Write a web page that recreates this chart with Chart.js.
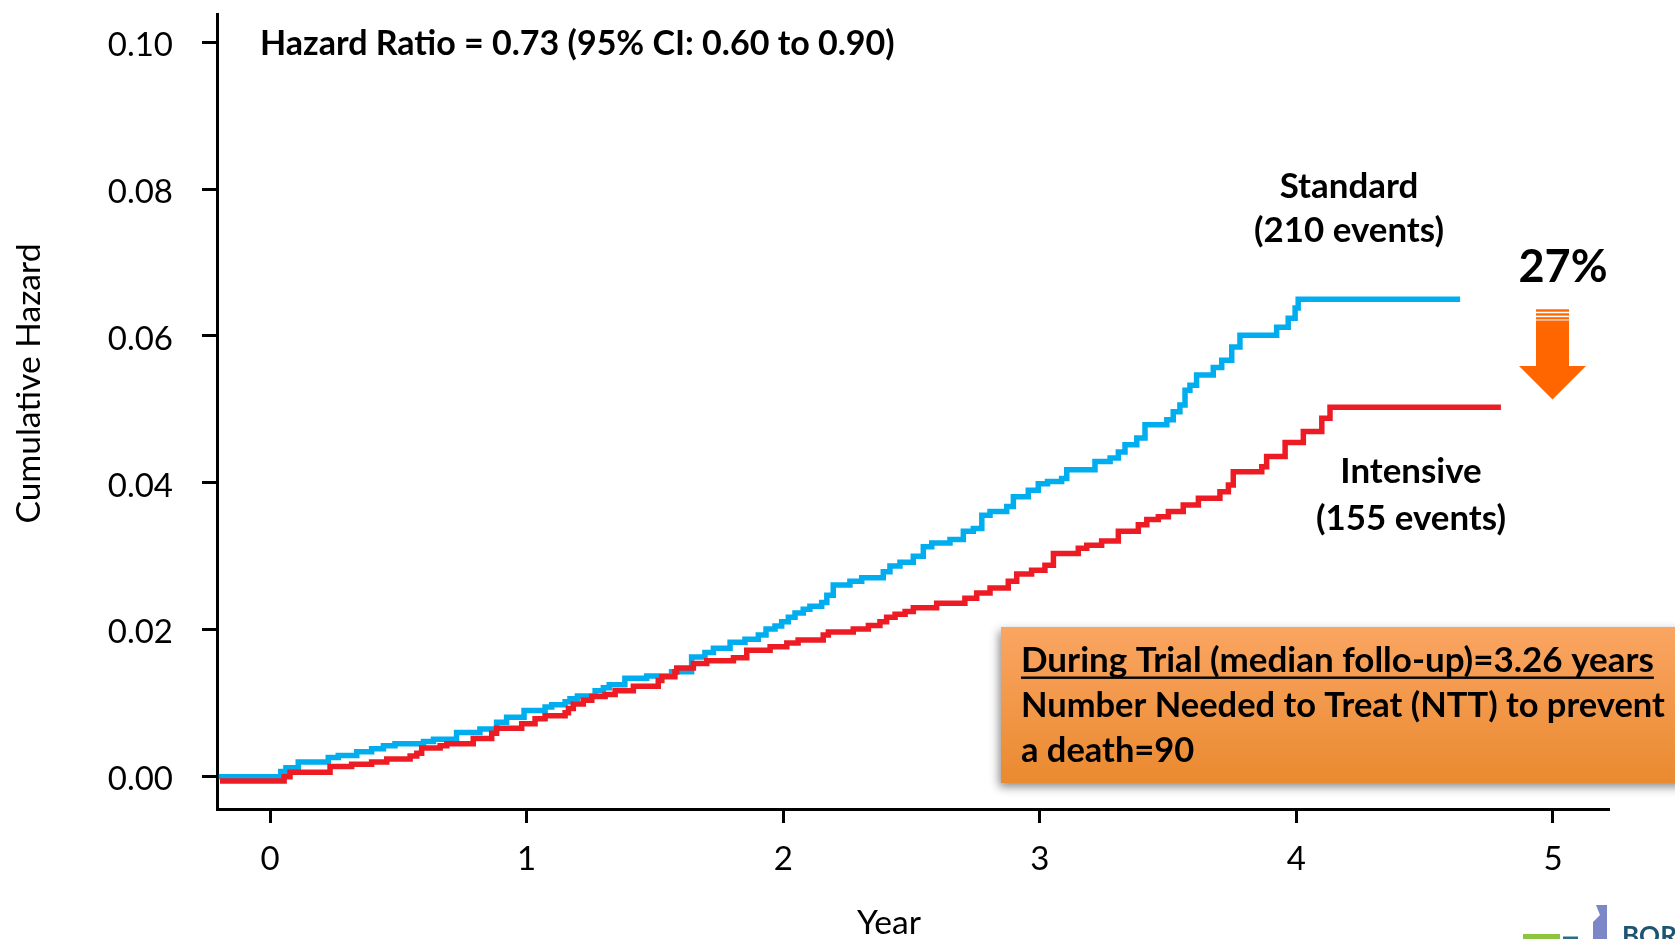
<!DOCTYPE html>
<html>
<head>
<meta charset="utf-8">
<title>Cumulative Hazard</title>
<script src="https://cdn.jsdelivr.net/npm/chart.js@4.4.0/dist/chart.umd.min.js"></script>
<style>
  html, body { margin: 0; padding: 0; background: #fff; }
  #wrap { width: 1675px; height: 939px; position: relative; overflow: hidden; }
</style>
</head>
<body>
<div id="wrap"><canvas id="chart" width="1675" height="939"></canvas></div>
<script>
// Standard arm (blue) - step points
const standardTime = [-0.2, 0.042, 0.062, 0.11, 0.227, 0.266, 0.338, 0.396, 0.442, 0.487, 0.598, 0.637, 0.727, 0.818, 0.883, 0.922, 0.99,
  1.072, 1.098, 1.15, 1.169, 1.198, 1.267, 1.299, 1.322, 1.383, 1.468, 1.565, 1.643, 1.695, 1.728, 1.793, 1.851, 1.903, 1.933, 1.968, 1.994,
  2.02, 2.046, 2.078, 2.104, 2.15, 2.17, 2.195, 2.26, 2.306, 2.39, 2.416, 2.455, 2.507, 2.546, 2.579, 2.65, 2.702, 2.741, 2.774, 2.806,
  2.871, 2.897, 2.955, 2.994, 3.03, 3.085, 3.105, 3.215, 3.274, 3.306, 3.332, 3.378, 3.41, 3.495, 3.52, 3.546, 3.566, 3.585, 3.611,
  3.676, 3.709, 3.748, 3.78, 3.923, 3.968, 3.995, 4.007, 4.638];
const standardHazard = [0, 0.0007, 0.0012, 0.002, 0.0026, 0.0029, 0.0034, 0.0038, 0.0042, 0.0045, 0.0048, 0.0051, 0.006, 0.0065, 0.0074, 0.0081, 0.009,
  0.0095, 0.0098, 0.0102, 0.0106, 0.011, 0.0117, 0.0121, 0.0125, 0.0134, 0.0137, 0.0143, 0.0163, 0.0169, 0.0175, 0.0183, 0.0187, 0.0193, 0.0201, 0.0205, 0.0211,
  0.0217, 0.0223, 0.0228, 0.0232, 0.0237, 0.0247, 0.0261, 0.0266, 0.0271, 0.0279, 0.0287, 0.0292, 0.03, 0.0313, 0.0318, 0.0323, 0.0334, 0.0338, 0.0356, 0.0361,
  0.0368, 0.0381, 0.039, 0.0399, 0.0402, 0.0406, 0.0418, 0.0429, 0.0434, 0.0442, 0.0452, 0.0461, 0.0479, 0.0486, 0.0497, 0.0506, 0.0526, 0.0533, 0.0547,
  0.0557, 0.0567, 0.0585, 0.0601, 0.0612, 0.0624, 0.0638, 0.065, 0.065];

// Intensive arm (red)
const intensiveTime = [-0.195, 0.055, 0.078, 0.234, 0.318, 0.396, 0.455, 0.546, 0.572, 0.591, 0.663, 0.689, 0.792, 0.864, 0.883, 0.981,
  1.033, 1.072, 1.15, 1.163, 1.182, 1.221, 1.254, 1.306, 1.345, 1.416, 1.513, 1.527, 1.578, 1.585, 1.65, 1.702, 1.806, 1.858, 1.949,
  2.014, 2.058, 2.156, 2.176, 2.273, 2.332, 2.377, 2.403, 2.436, 2.475, 2.507, 2.598, 2.708, 2.754, 2.806, 2.877, 2.91, 2.968,
  3.02, 3.053, 3.15, 3.183, 3.241, 3.306, 3.384, 3.417, 3.462, 3.501, 3.559, 3.618, 3.702, 3.735, 3.754, 3.865, 3.884, 3.956,
  4.027, 4.099, 4.131, 4.797];
const intensiveHazard = [-0.0006, 0, 0.0006, 0.0014, 0.0017, 0.002, 0.0024, 0.0028, 0.0032, 0.0039, 0.0042, 0.0045, 0.0052, 0.0059, 0.0066, 0.0072,
  0.0079, 0.0083, 0.0087, 0.0093, 0.0099, 0.0104, 0.0109, 0.0112, 0.0117, 0.0123, 0.0131, 0.0136, 0.0143, 0.0148, 0.0154, 0.0158, 0.0162, 0.0172, 0.0177,
  0.0182, 0.0186, 0.0193, 0.0197, 0.0201, 0.0206, 0.0211, 0.0217, 0.0221, 0.0225, 0.023, 0.0236, 0.0243, 0.025, 0.0257, 0.0266, 0.0276, 0.0281,
  0.0288, 0.0304, 0.0311, 0.0315, 0.0321, 0.0334, 0.0343, 0.035, 0.0354, 0.0361, 0.037, 0.0379, 0.0388, 0.0397, 0.0415, 0.0422, 0.0436, 0.0455,
  0.047, 0.0488, 0.0503, 0.0503];

const yearTicks = [0, 1, 2, 3, 4, 5];
const hazardTicks = [0, 0.02, 0.04, 0.06, 0.08, 0.10];

const FONT = 'Lato, "Open Sans", sans-serif';

function toPoints(xs, ys) {
  return xs.map((x, i) => ({ x: x, y: ys[i] }));
}

// font size that makes text a given width
function fitSize(ctx, text, weight, width) {
  ctx.font = weight + ' 100px ' + FONT;
  return 100 * width / ctx.measureText(text).width;
}

function centerText(ctx, text, cx, baseline, size, weight) {
  ctx.font = weight + ' ' + size + 'px ' + FONT;
  ctx.textAlign = 'center';
  ctx.fillText(text, cx, baseline);
}

const annotations = {
  id: 'annotations',
  afterDraw(chart) {
    const ctx = chart.ctx;
    ctx.save();
    ctx.fillStyle = '#000';
    ctx.textBaseline = 'alphabetic';

    // hazard ratio
    const hr = 'Hazard Ratio = 0.73 (95% CI: 0.60 to 0.90)';
    ctx.font = 'bold ' + fitSize(ctx, hr, 'bold', 635) + 'px ' + FONT;
    ctx.textAlign = 'left';
    ctx.fillText(hr, 260, 55);

    // group labels
    const gs = fitSize(ctx, '(210 events)', 'bold', 190);
    centerText(ctx, 'Standard', 1349, 198, gs, 'bold');
    centerText(ctx, '(210 events)', 1349, 242, gs, 'bold');
    centerText(ctx, 'Intensive', 1411, 483, gs, 'bold');
    centerText(ctx, '(155 events)', 1411, 530, gs, 'bold');

    centerText(ctx, '27%', 1563, 282, 45, 'bold');

    // arrow
    ctx.fillStyle = '#ff6600';
    ctx.fillRect(1536, 309.3, 33, 2.4);
    ctx.fillRect(1536, 313.3, 33, 2.3);
    ctx.fillRect(1536, 317.2, 33, 2.2);
    ctx.beginPath();
    ctx.moveTo(1536, 320.5);
    ctx.lineTo(1569, 320.5);
    ctx.lineTo(1569, 366);
    ctx.lineTo(1586, 366);
    ctx.lineTo(1552.5, 399.5);
    ctx.lineTo(1519, 366);
    ctx.lineTo(1536, 366);
    ctx.closePath();
    ctx.fill();

    // orange box
    ctx.save();
    const grad = ctx.createLinearGradient(0, 627, 0, 783);
    grad.addColorStop(0, '#faa562');
    grad.addColorStop(1, '#ea8a30');
    ctx.shadowColor = 'rgba(0,0,0,0.45)';
    ctx.shadowBlur = 9;
    ctx.shadowOffsetX = -2;
    ctx.shadowOffsetY = 4;
    ctx.fillStyle = grad;
    ctx.fillRect(1001, 627, 700, 156);
    ctx.restore();

    const l1 = 'During Trial (median follo-up)=3.26 years';
    const l2 = 'Number Needed to Treat (NTT) to prevent';
    ctx.textAlign = 'left';
    ctx.fillStyle = '#000';
    ctx.font = 'bold ' + fitSize(ctx, l1, 'bold', 633) + 'px ' + FONT;
    ctx.fillText(l1, 1021, 672);
    ctx.fillRect(1021, 676.5, ctx.measureText(l1).width, 2.4);
    ctx.font = 'bold ' + fitSize(ctx, l2, 'bold', 644) + 'px ' + FONT;
    ctx.fillText(l2, 1021, 717);
    ctx.fillText('a death=90', 1021, 762);

    // axis titles
    const ys = fitSize(ctx, 'Cumulative Hazard', 'normal', 280);
    ctx.save();
    ctx.translate(40, 383.5);
    ctx.rotate(-Math.PI / 2);
    centerText(ctx, 'Cumulative Hazard', 0, 0, ys, 'normal');
    ctx.restore();
    centerText(ctx, 'Year', 889, 934, fitSize(ctx, 'Year', 'normal', 64), 'normal');

    // logo corner
    ctx.fillStyle = '#8cc63f';
    ctx.fillRect(1523, 934, 37, 6);
    ctx.fillStyle = '#2a6e8a';
    ctx.fillRect(1563, 936.5, 15, 3);
    ctx.fillStyle = '#7c87c8';
    ctx.beginPath();
    ctx.moveTo(1596, 905);
    ctx.lineTo(1607, 905);
    ctx.lineTo(1607, 939);
    ctx.lineTo(1593, 939);
    ctx.lineTo(1593, 922);
    ctx.lineTo(1600, 915);
    ctx.closePath();
    ctx.fill();
    ctx.fillStyle = '#1d5570';
    ctx.font = 'bold 26px ' + FONT;
    ctx.textAlign = 'left';
    ctx.fillText('BOR', 1622, 945);

    ctx.restore();
  }
};

new Chart(document.getElementById('chart'), {
  type: 'line',
  data: {
    datasets: [
      {
        label: 'Intensive',
        data: toPoints(intensiveTime, intensiveHazard),
        borderColor: '#ed1c24',
        borderWidth: 5.5,
        stepped: true,
        pointRadius: 0,
        fill: false
      },
      {
        label: 'Standard',
        data: toPoints(standardTime, standardHazard),
        borderColor: '#00aeef',
        borderWidth: 5.5,
        stepped: true,
        pointRadius: 0,
        fill: false
      }
    ]
  },
  options: {
    responsive: false,
    animation: false,
    devicePixelRatio: 1,
    layout: { padding: { left: 0, top: 14, right: 66.5, bottom: 0 } },
    plugins: {
      legend: { display: false },
      tooltip: { enabled: false }
    },
    scales: {
      x: {
        type: 'linear',
        min: -0.2066,
        max: 5.2163,
        afterBuildTicks: s => { s.ticks = yearTicks.map(v => ({ value: v })); },
        afterFit: s => { s.height = 130; s.paddingLeft = 0; s.paddingRight = 0; },
        border: { display: true, color: '#000', width: 3 },
        grid: { drawOnChartArea: false, drawTicks: true, tickLength: 14, color: '#000', lineWidth: 3 },
        ticks: {
          color: '#000',
          font: { family: FONT, size: 33 },
          padding: 17,
          maxRotation: 0,
          autoSkip: false,
          callback: v => String(v)
        }
      },
      y: {
        type: 'linear',
        min: -0.0044,
        max: 0.10384,
        afterBuildTicks: s => { s.ticks = hazardTicks.map(v => ({ value: v })); },
        afterFit: s => { s.width = 217; s.paddingTop = 0; s.paddingBottom = 0; },
        border: { display: true, color: '#000', width: 3 },
        grid: { drawOnChartArea: false, drawTicks: true, tickLength: 15, color: '#000', lineWidth: 3 },
        ticks: {
          color: '#000',
          font: { family: FONT, size: 33 },
          padding: 29,
          labelOffset: 3,
          autoSkip: false,
          callback: v => v.toFixed(2)
        }
      }
    }
  },
  plugins: [annotations]
});
</script>
</body>
</html>
